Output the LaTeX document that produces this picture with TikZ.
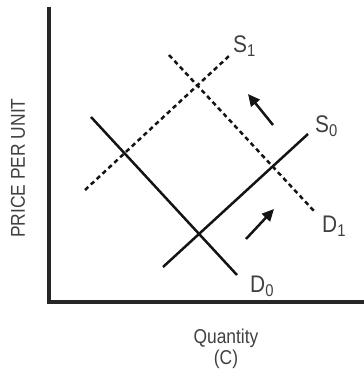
\documentclass[tikz,border=0pt]{standalone}
\usepackage{fontspec}
\setmainfont{Liberation Sans}[FakeStretch=0.87]
\usetikzlibrary{arrows.meta}
\newcommand{\crv}[2]{#1\raisebox{-4pt}{\fontsize{17}{17}\selectfont #2}}

\begin{document}
\begin{tikzpicture}[x=1pt,y=1pt,>={Triangle[length=12pt,width=11pt]},
  axis/.style={line width=3.4pt,black!85},
  curve/.style={line width=2.5pt,black!92},
  shifted/.style={curve,dash pattern=on 4.5pt off 3.5pt},
  lbl/.style={anchor=base west,inner sep=0pt,text=black!75,
              font=\fontsize{24}{24}\selectfont},
  ttl/.style={inner sep=0pt,text=black!75,font=\fontsize{20}{22}\selectfont}]
  \useasboundingbox (0,0) rectangle (364,373);

  % ---- axes -------------------------------------------------------------
  \coordinate (origin) at (49,71);
  \coordinate (ytop)   at (49,366);
  \coordinate (xend)   at (366,71);
  \draw[axis] (ytop) -- (origin) -- (xend);
  \node[ttl,rotate=90,anchor=base] (plabel) at (25,205) {PRICE PER UNIT};
  \node[ttl,anchor=base] (qlabel) at (226,30) {Quantity};
  \node[ttl,anchor=base] (clabel) at (226,9) {(C)};

  % ---- original demand and supply ---------------------------------------
  \coordinate (d0a) at (91,256);  \coordinate (d0b) at (237,98);
  \coordinate (s0a) at (163,106); \coordinate (s0b) at (308,239);
  \draw[curve] (d0a) -- (d0b);
  \draw[curve] (s0a) -- (s0b);

  % ---- shifted curves (dashed) ------------------------------------------
  \coordinate (s1a) at (85,183);  \coordinate (s1b) at (229,317);
  \coordinate (d1a) at (169,318); \coordinate (d1b) at (314,162);
  \draw[shifted] (s1a) -- (s1b);
  \draw[shifted] (d1a) -- (d1b);

  % ---- labels -----------------------------------------------------------
  \node[lbl] (S1) at (233,320) {\crv{S}{1}};
  \node[lbl] (S0) at (315,240) {\crv{S}{0}};
  \node[lbl] (D1) at (322,140) {\crv{D}{1}};
  \node[lbl] (D0) at (250,81)  {\crv{D}{0}};

  % ---- shift arrows -----------------------------------------------------
  \coordinate (upl0) at (273,248); \coordinate (upl1) at (248,279);
  \coordinate (upr0) at (246,134); \coordinate (upr1) at (274,164);
  \draw[curve,->] (upl0) -- (upl1);
  \draw[curve,->] (upr0) -- (upr1);
\end{tikzpicture}
\end{document}
